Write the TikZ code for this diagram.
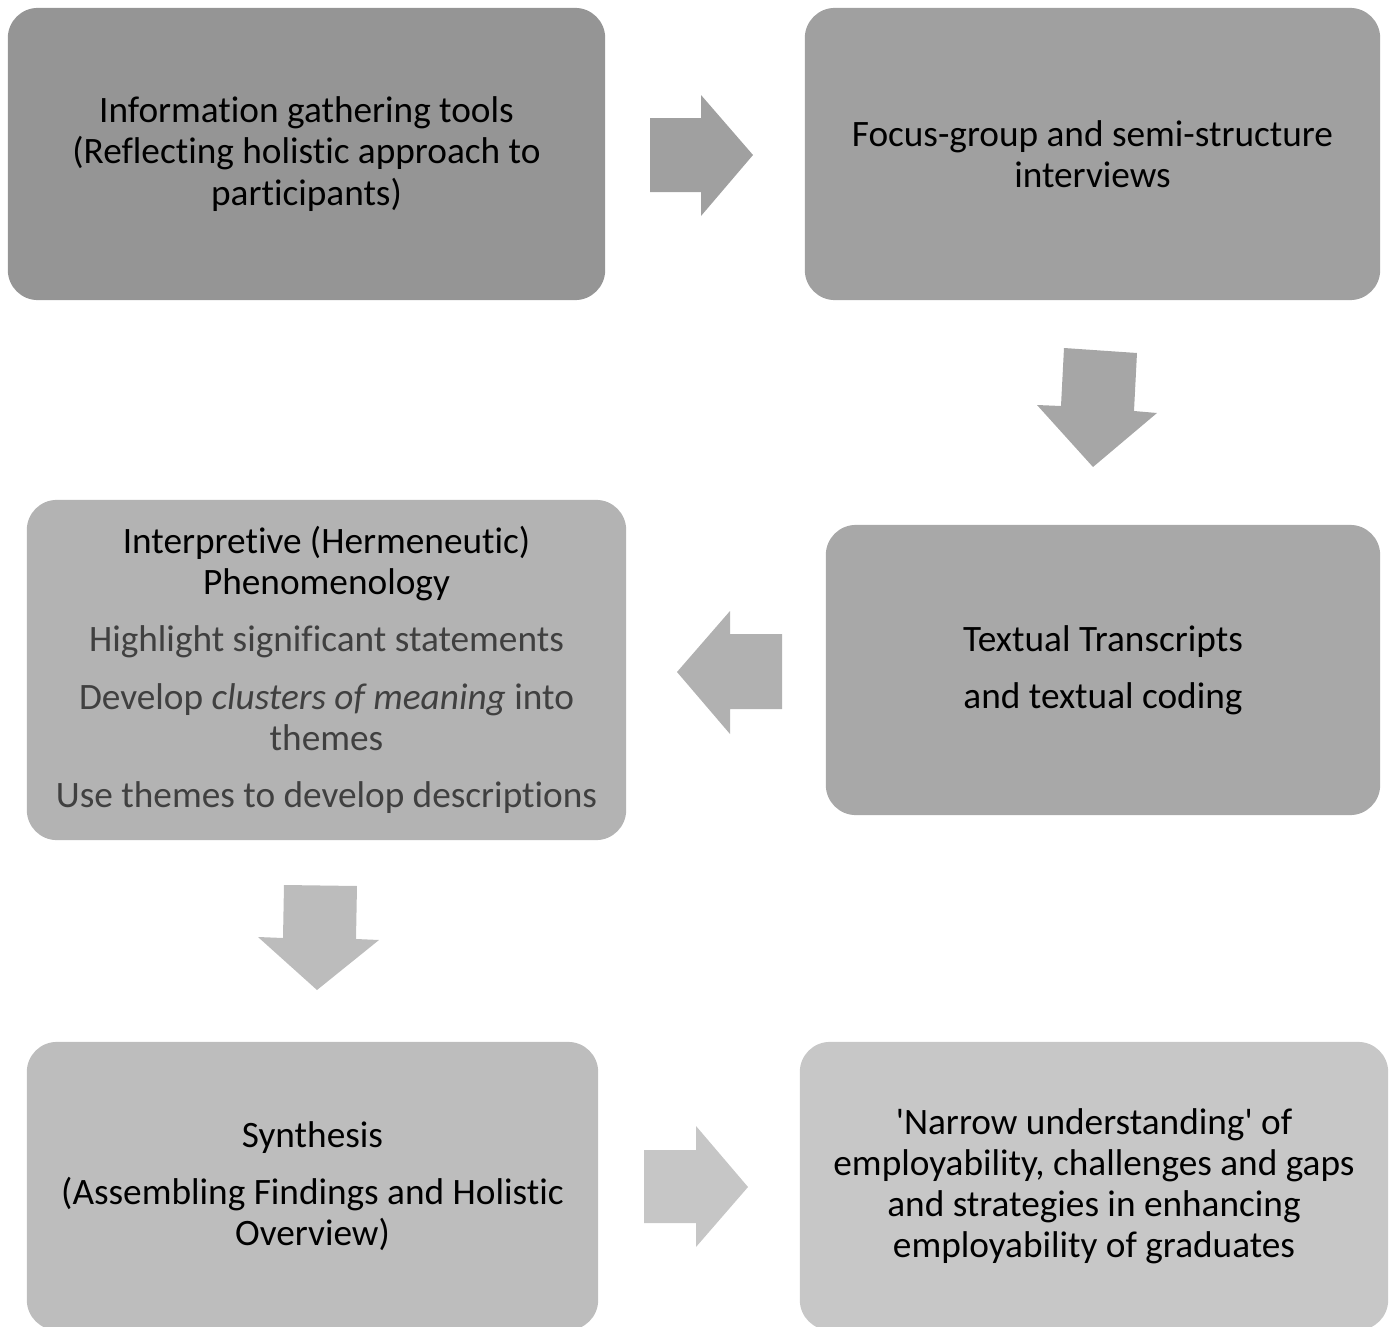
\documentclass[tikz,border=0pt]{standalone}
\usepackage{fontspec}
\setmainfont{Carlito}[Ligatures={NoCommon}]
\definecolor{boxA}{HTML}{959595}
\definecolor{boxB}{HTML}{A0A0A0}
\definecolor{arrB}{HTML}{A6A6A6}
\definecolor{boxC}{HTML}{A8A8A8}
\definecolor{arrC}{HTML}{B1B1B1}
\definecolor{boxD}{HTML}{B3B3B3}
\definecolor{arrD}{HTML}{BCBCBC}
\definecolor{boxE}{HTML}{BDBDBD}
\definecolor{arrE}{HTML}{C6C6C6}
\definecolor{boxF}{HTML}{C7C7C7}
\definecolor{subtext}{HTML}{404040}
\tikzset{
    stage/.style={rounded corners=0.3cm, inner sep=0pt, align=center,
        font=\fontsize{10.6}{11.7}\selectfont, text=black},
}
\begin{document}
\begin{tikzpicture}[x=0.01cm, y=-0.01cm]
    \useasboundingbox (0,0) rectangle (1393,1327);
    \clip (0,0) rectangle (1393,1327);

    % boxes, in reading order
    \node[stage, fill=boxA, minimum width=5.97cm, minimum height=2.92cm] (gather) at (306.5,154)
        {Information gathering tools\\(Reflecting holistic approach to\\participants)};
    \node[stage, fill=boxB, minimum width=5.75cm, minimum height=2.92cm] (interview) at (1092.5,154)
        {Focus-group and semi-structure\\interviews};
    \node[stage, fill=boxC, minimum width=5.54cm, minimum height=2.90cm] (transcript) at (1103,670)
        {Textual Transcripts\\[4.6pt]and textual coding};
    \node[stage, fill=boxD, minimum width=5.99cm, minimum height=3.40cm] (phenom) at (326.5,670)
        {Interpretive (Hermeneutic)\\Phenomenology\\[4.6pt]
         \textcolor{subtext}{Highlight significant statements}\\[4.6pt]
         \textcolor{subtext}{Develop \textit{clusters of meaning} into}\\
         \textcolor{subtext}{themes}\\[4.6pt]
         \textcolor{subtext}{Use themes to develop descriptions}};
    \node[stage, fill=boxE, minimum width=5.71cm, minimum height=2.88cm] (synth) at (312.5,1186)
        {Synthesis\\[4.6pt](Assembling Findings and Holistic\\Overview)};
    \node[stage, fill=boxF, minimum width=5.88cm, minimum height=2.88cm] (outcome) at (1094,1186)
        {\textquotesingle Narrow understanding\textquotesingle{} of\\employability, challenges and gaps\\and strategies in enhancing\\employability of graduates};

    % block arrows between the boxes
    \fill[boxB] (650,118) -- (701,118) -- (701,95) -- (753,155) -- (701,216) -- (701,192) -- (650,192) -- cycle;
    \fill[arrB] (1064,348) -- (1137,353) -- (1134,411) -- (1157,413) -- (1093,467) -- (1037,405) -- (1061,406) -- cycle;
    \fill[arrC] (782,634) -- (730,634) -- (730,611) -- (677,672) -- (730,734) -- (730,709) -- (782,709) -- cycle;
    \fill[arrD] (284,885) -- (357,886) -- (356,939) -- (379,940) -- (317,990) -- (258,937) -- (283,938) -- cycle;
    \fill[arrE] (644,1150) -- (696,1150) -- (696,1126) -- (748,1187) -- (696,1247) -- (696,1223) -- (644,1223) -- cycle;
\end{tikzpicture}
\end{document}
